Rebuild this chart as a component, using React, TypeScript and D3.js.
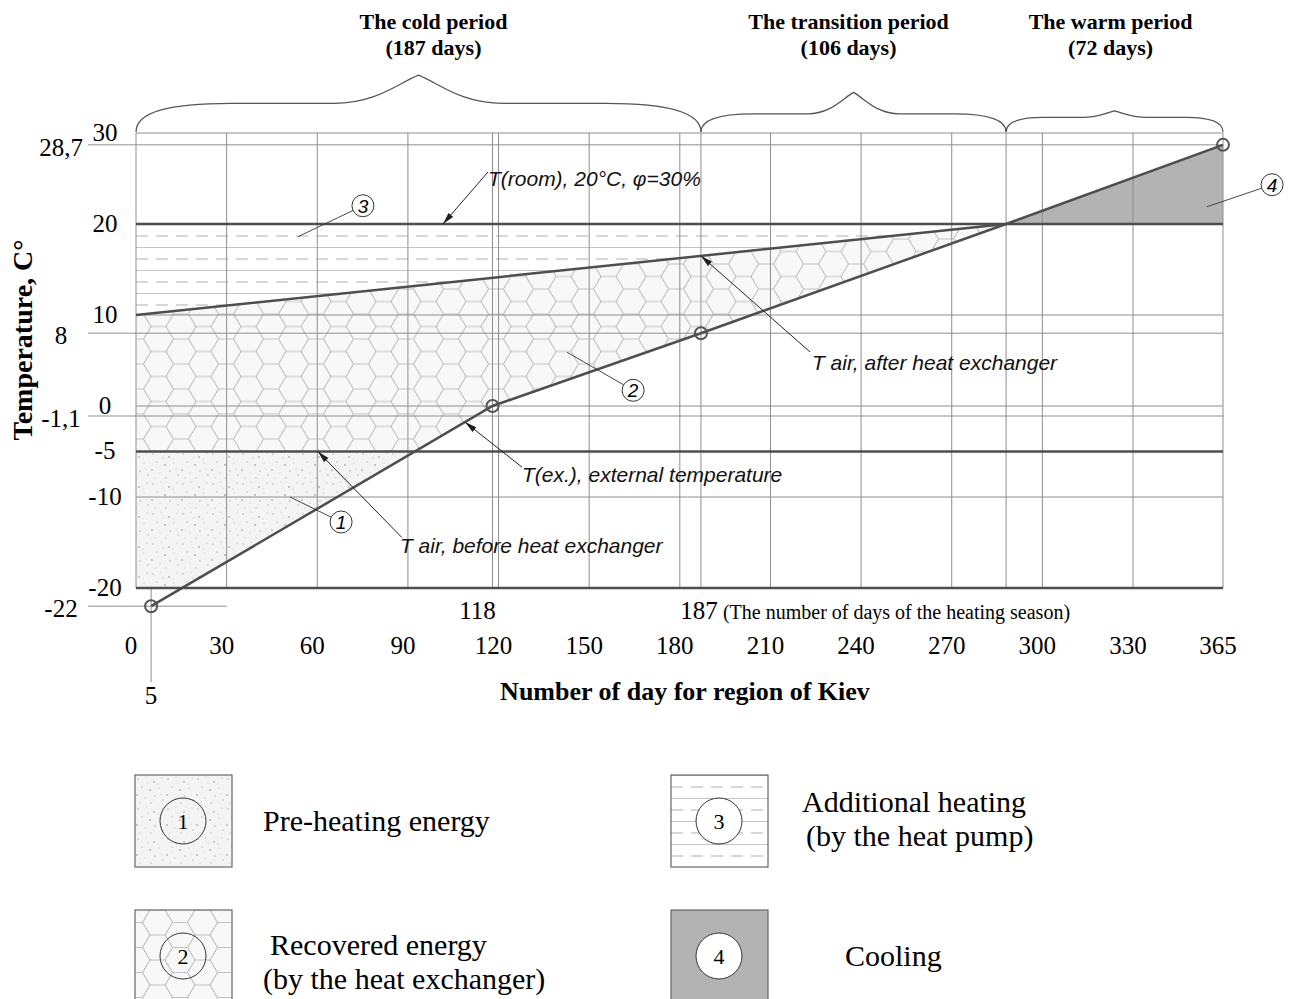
import React from "react";
import * as d3 from "d3";

// ---------- data ----------
const dayTicks = [0, 30, 60, 90, 120, 150, 180, 210, 240, 270, 300, 330, 365];
const markedDays = [118, 187, 288];
const tempTicksMain = [30, 20, 10, 0, -5, -10, -20];
const tempTicksExtra = [28.7, 8, -1.1, -22];
const extDays = [5, 118, 187, 288, 365];
const extTemps = [-22, 0, 8, 20, 28.7];
const afterDays = [0, 288];
const afterTemps = [10, 20];
const roomTemp = 20;
const preheatTemp = -5;
const bottomTemp = -20;
const periodNames = ["The cold period", "The transition period", "The warm period"];
const periodLengths = [187, 106, 72];
const periodBounds = [0, 187, 288, 365];
const legendNumbers = [1, 2, 3, 4];
const legendLabels = [
  ["Pre-heating energy"],
  ["Recovered energy", "(by the heat exchanger)"],
  ["Additional heating", "(by the heat pump)"],
  ["Cooling"],
];
const curveLabels = [
  "T(room), 20°C, φ=30%",
  "T air, after heat exchanger",
  "T(ex.), external temperature",
  "T air, before heat exchanger",
];
const xTitle = "Number of day for region of Kiev";
const yTitle = "Temperature, C°";
const heatingSeasonNote = "(The number of days of the heating season)";

// ---------- style ----------
const SERIF = "'Liberation Serif', 'Times New Roman', serif";
const SANS = "'Liberation Sans', Arial, sans-serif";
const DARK = "#4e4e4e";
const GRID = "#8e8e8e";

const stippleDots: [number, number, number][] = [
  [3, 4, 0.8], [11, 2, 0.6], [19, 7, 0.9], [27, 3, 0.6], [7, 12, 0.7], [15, 15, 1],
  [24, 13, 0.6], [2, 20, 0.9], [10, 23, 0.6], [20, 21, 0.8], [28, 25, 0.7], [5, 28, 0.6],
  [16, 28, 0.7], [23, 9, 0.5], [13, 8, 0.5], [26, 19, 0.5], [8, 17, 0.4], [18, 25, 0.4],
];

function hexPath(cx: number, cy: number, r: number, h: number) {
  const p = d3.path();
  p.moveTo(cx - r, cy);
  p.lineTo(cx - r / 2, cy - h / 2);
  p.lineTo(cx + r / 2, cy - h / 2);
  p.lineTo(cx + r, cy);
  p.lineTo(cx + r / 2, cy + h / 2);
  p.lineTo(cx - r / 2, cy + h / 2);
  p.closePath();
  return p.toString();
}

function bracePath(x0: number, x1: number, yb: number, pkFactor: number) {
  const w = x1 - x0;
  const xm = (x0 + x1) / 2;
  const d = 6 + 0.04 * w;
  const pk = pkFactor * w;
  const a = Math.min(0.17 * w, 95);
  const b = 0.15 * w;
  const yf = yb - d;
  const yp = yf - pk;
  const p = d3.path();
  p.moveTo(x0, yb);
  p.bezierCurveTo(x0, yb - d * 0.7, x0 + a * 0.35, yf, x0 + a, yf);
  p.lineTo(xm - b, yf);
  p.bezierCurveTo(xm - b * 0.5, yf, xm - b * 0.25, yp + pk * 0.3, xm, yp);
  p.bezierCurveTo(xm + b * 0.25, yp + pk * 0.3, xm + b * 0.5, yf, xm + b, yf);
  p.lineTo(x1 - a, yf);
  p.bezierCurveTo(x1 - a * 0.35, yf, x1, yb - d * 0.7, x1, yb);
  return { d: p.toString(), xm, yp };
}

export default function App() {
  const x = d3.scaleLinear().domain([0, 330, 365]).range([136, 1133, 1223]);
  const y = d3.scaleLinear().domain([-20, 30]).range([588, 133]);
  const ext = d3.scaleLinear().domain(extDays).range(extTemps);
  const extInv = d3.scaleLinear().domain(extTemps).range(extDays);
  const after = d3.scaleLinear().domain(afterDays).range(afterTemps);

  const dPre = extInv(preheatTemp);
  const dBottom = extInv(bottomTemp);
  const dRoom = extInv(roomTemp);
  const extPts: [number, number][] = extDays.map((d, i) => [d, extTemps[i]]);
  const line = d3
    .line<[number, number]>()
    .x((d) => x(d[0]))
    .y((d) => y(d[1]));
  const x0 = x(0);
  const xEnd = x(365);

  const region1: [number, number][] = [
    [0, preheatTemp],
    [dPre, preheatTemp],
    ...extPts.filter((p) => p[0] > dBottom && p[0] < dPre).reverse(),
    [dBottom, bottomTemp],
    [0, bottomTemp],
  ];
  const region2: [number, number][] = [
    [0, after(0)],
    [dRoom, after(dRoom)],
    ...extPts.filter((p) => p[0] > dPre && p[0] < dRoom).reverse(),
    [dPre, preheatTemp],
    [0, preheatTemp],
  ];
  const region3: [number, number][] = [
    [0, roomTemp],
    [dRoom, roomTemp],
    [0, after(0)],
  ];
  const region4: [number, number][] = [
    [dRoom, roomTemp],
    ...extPts.filter((p) => p[0] > dRoom),
    [365, roomTemp],
  ];

  const hexR = 15;
  const hexH = 25;
  const hexCenters = [
    [0, 0], [3 * hexR, 0], [0, hexH], [3 * hexR, hexH], [1.5 * hexR, hexH / 2],
  ];

  const vDays = [...dayTicks, ...markedDays];
  const thinTemps = [30, 10, 0, -10];

  // arrow annotations: tip in data coords, tail/text offsets in px
  const arrows = [
    { day: 101.6, temp: roomTemp, tail: [45, -52], text: [45, -38] },
    { day: 187, temp: after(187), tail: [109, 96], text: [111, 114] },
    { day: 108.9, temp: ext(108.9), tail: [57, 45], text: [57, 60] },
    { day: 60.2, temp: preheatTemp, tail: [84, 86], text: [82, 101] },
  ];
  // numbered callouts: anchor in data coords, circle offset in px
  const callouts = [
    { n: 1, day: 51, temp: -10, off: [51, 25] },
    { n: 2, day: 142.7, temp: 5.9, off: [66, 38] },
    { n: 3, day: 53.6, temp: 18.6, off: [65, -31] },
    { n: 4, day: 358.8, temp: 21.9, off: [65, -22] },
  ];
  const calloutR = 11;

  const legendPos = [
    [135, 775], [135, 910], [671, 775], [671, 910],
  ];
  const legendFills = ["url(#stipL)", "url(#hexL)", "url(#linesL)", "#b3b3b3"];
  const titleShift = [15, -5, -4];
  const bracePeak = [0.05, 0.07, 0.03];

  return (
    <svg
      width={1296}
      height={999}
      style={{ position: "absolute", left: 0, top: 0, background: "#fff" }}
      xmlns="http://www.w3.org/2000/svg"
    >
      <defs>
        {["stip", "stipL"].map((id) => (
          <pattern
            key={id}
            id={id}
            patternUnits="userSpaceOnUse"
            width={30}
            height={30}
            x={id === "stip" ? 0 : 135}
            y={id === "stip" ? 0 : 775}
          >
            <rect width={30} height={30} fill="#f4f4f4" />
            {stippleDots.map((d, i) => (
              <circle key={i} cx={d[0]} cy={d[1]} r={d[2]} fill="#b4b4b4" />
            ))}
          </pattern>
        ))}
        {["hex", "hexL"].map((id) => (
          <pattern
            key={id}
            id={id}
            patternUnits="userSpaceOnUse"
            width={3 * hexR}
            height={hexH}
            x={id === "hex" ? x0 : 135}
            y={id === "hex" ? y(preheatTemp) : 910}
          >
            <rect width={3 * hexR} height={hexH} fill="#f8f8f8" />
            {hexCenters.map((c, i) => (
              <path key={i} d={hexPath(c[0], c[1], hexR, hexH)} fill="none" stroke="#c2c2c2" strokeWidth={1} />
            ))}
          </pattern>
        ))}
        {["lines", "linesL"].map((id) => (
          <pattern
            key={id}
            id={id}
            patternUnits="userSpaceOnUse"
            width={40}
            height={23}
            x={id === "lines" ? x0 : 671}
            y={id === "lines" ? y(roomTemp) : 775}
          >
            <rect width={40} height={23} fill="#fff" />
            <line x1={0} x2={40} y1={12} y2={12} stroke="#b0b0b0" strokeDasharray="12 8" strokeWidth={1} />
            <line x1={0} x2={40} y1={0.5} y2={0.5} stroke="#c4c4c4" strokeWidth={1} />
          </pattern>
        ))}
        <marker
          id="arrow"
          viewBox="0 0 12 6"
          refX={12}
          refY={3}
          markerWidth={13}
          markerHeight={6}
          orient="auto"
          markerUnits="userSpaceOnUse"
        >
          <path d="M0,0L12,3L0,6Z" fill="#1e1e1e" />
        </marker>
      </defs>

      {/* regions */}
      <path d={line(region1) + "Z"} fill="url(#stip)" />
      <path d={line(region2) + "Z"} fill="url(#hex)" />
      <path d={line(region3) + "Z"} fill="url(#lines)" />
      <path d={line(region4) + "Z"} fill="#b3b3b3" />

      {/* vertical grid */}
      {vDays.map((d) => (
        <line key={"v" + d} x1={x(d)} x2={x(d)} y1={y(30)} y2={y(-20)} stroke={GRID} strokeWidth={1} />
      ))}
      {/* horizontal grid */}
      {thinTemps.map((t) => (
        <line key={"h" + t} x1={x0} x2={xEnd} y1={y(t)} y2={y(t)} stroke={GRID} strokeWidth={1} />
      ))}
      {tempTicksExtra.map((t) => (
        <line
          key={"e" + t}
          x1={88}
          x2={t === -22 ? x(30) : xEnd}
          y1={y(t)}
          y2={y(t)}
          stroke={GRID}
          strokeWidth={1}
        />
      ))}
      {/* day 5 leader */}
      <line x1={x(extDays[0])} x2={x(extDays[0])} y1={y(bottomTemp)} y2={682} stroke={GRID} strokeWidth={1} />

      {/* thick lines */}
      {[roomTemp, preheatTemp, bottomTemp].map((t) => (
        <line key={"t" + t} x1={x0} x2={xEnd} y1={y(t)} y2={y(t)} stroke={DARK} strokeWidth={2.5} />
      ))}
      <path
        d={line(afterDays.map((d, i) => [d, afterTemps[i]] as [number, number])) || ""}
        fill="none"
        stroke={DARK}
        strokeWidth={2.5}
      />
      <path d={line(extPts) || ""} fill="none" stroke={DARK} strokeWidth={2.5} />
      {extPts
        .filter((p) => p[0] !== dRoom)
        .map((p) => (
          <circle key={"c" + p[0]} cx={x(p[0])} cy={y(p[1])} r={6} fill="none" stroke="#555" strokeWidth={2} />
        ))}

      {/* braces & period titles */}
      {periodNames.map((name, i) => {
        const b = bracePath(x(periodBounds[i]), x(periodBounds[i + 1]), y(30) - 1, bracePeak[i]);
        return (
          <g key={name}>
            <path d={b.d} fill="none" stroke="#555" strokeWidth={1.3} />
            <text
              x={b.xm + titleShift[i]}
              y={29}
              textAnchor="middle"
              fontFamily={SERIF}
              fontWeight="bold"
              fontSize={22}
            >
              {name}
            </text>
            <text
              x={b.xm + titleShift[i]}
              y={55}
              textAnchor="middle"
              fontFamily={SERIF}
              fontWeight="bold"
              fontSize={22}
            >
              ({periodLengths[i]} days)
            </text>
          </g>
        );
      })}

      {/* y tick labels */}
      {tempTicksMain.map((t) => (
        <text key={"yl" + t} x={105} y={y(t) - 1} dy="0.35em" textAnchor="middle" fontFamily={SERIF} fontSize={25}>
          {String(t)}
        </text>
      ))}
      {tempTicksExtra.map((t) => (
        <text key={"yx" + t} x={61} y={y(t) + 2} dy="0.35em" textAnchor="middle" fontFamily={SERIF} fontSize={25}>
          {String(t).replace(".", ",")}
        </text>
      ))}

      {/* x tick labels */}
      {dayTicks.map((d) => (
        <text key={"xl" + d} x={x(d) - 5} y={654} textAnchor="middle" fontFamily={SERIF} fontSize={25}>
          {d}
        </text>
      ))}
      <text x={x(markedDays[0]) - 15} y={619} textAnchor="middle" fontFamily={SERIF} fontSize={25}>
        {markedDays[0]}
      </text>
      <text x={x(markedDays[1]) - 2} y={619} textAnchor="middle" fontFamily={SERIF} fontSize={25}>
        {markedDays[1]}
      </text>
      <text x={x(markedDays[1]) + 22} y={619} fontFamily={SERIF} fontSize={20}>
        {heatingSeasonNote}
      </text>
      <text x={x(extDays[0])} y={704} textAnchor="middle" fontFamily={SERIF} fontSize={25}>
        {extDays[0]}
      </text>

      {/* axis titles */}
      <text x={685} y={700} textAnchor="middle" fontFamily={SERIF} fontWeight="bold" fontSize={26}>
        {xTitle}
      </text>
      <text
        transform="translate(32,340) rotate(-90)"
        textAnchor="middle"
        fontFamily={SERIF}
        fontWeight="bold"
        fontSize={28}
      >
        {yTitle}
      </text>

      {/* arrow annotations */}
      {arrows.map((a, i) => {
        const tx = x(a.day);
        const ty = y(a.temp);
        return (
          <g key={"a" + i}>
            <line
              x1={tx + a.tail[0]}
              y1={ty + a.tail[1]}
              x2={tx}
              y2={ty}
              stroke="#222"
              strokeWidth={1}
              markerEnd="url(#arrow)"
            />
            <text
              x={tx + a.text[0]}
              y={ty + a.text[1]}
              fontFamily={SANS}
              fontStyle="italic"
              fontSize={21}
              fill="#111"
            >
              {curveLabels[i]}
            </text>
          </g>
        );
      })}

      {/* numbered callouts */}
      {callouts.map((c) => {
        const ax = x(c.day);
        const ay = y(c.temp);
        const cx = ax + c.off[0];
        const cy = ay + c.off[1];
        const len = Math.hypot(c.off[0], c.off[1]);
        const ex = cx - (c.off[0] / len) * calloutR;
        const ey = cy - (c.off[1] / len) * calloutR;
        return (
          <g key={"n" + c.n}>
            <line x1={ax} y1={ay} x2={ex} y2={ey} stroke="#333" strokeWidth={0.9} />
            <circle cx={cx} cy={cy} r={calloutR} fill="none" stroke="#333" strokeWidth={1} />
            <text
              x={cx}
              y={cy}
              dy="0.36em"
              textAnchor="middle"
              fontFamily={SANS}
              fontStyle="italic"
              fontSize={19}
            >
              {c.n}
            </text>
          </g>
        );
      })}

      {/* legend */}
      {legendNumbers.map((n, i) => {
        const [lx, ly] = legendPos[i];
        const textX = i < 2 ? 263 : i === 2 ? 802 : 845;
        const lines = legendLabels[i];
        const cy = ly + 46;
        return (
          <g key={"lg" + n}>
            <rect x={lx} y={ly} width={97} height={92} fill={legendFills[i]} stroke="#666" strokeWidth={1.2} />
            <circle
              cx={lx + 48}
              cy={cy}
              r={23}
              fill={i >= 2 ? "#fff" : "none"}
              stroke="#333"
              strokeWidth={1}
            />
            <text x={lx + 48} y={cy} dy="0.35em" textAnchor="middle" fontFamily={SERIF} fontSize={22}>
              {n}
            </text>
            {lines.map((s, j) => (
              <text
                key={j}
                x={textX + (lines.length > 1 && j === 0 && i === 1 ? 7 : 0) + (i === 2 && j === 1 ? 4 : 0)}
                y={lines.length === 1 ? cy + 10 : cy - 7 + j * 34 + (i === 1 ? -4 : -12) + 10}
                fontFamily={SERIF}
                fontSize={30}
              >
                {s}
              </text>
            ))}
          </g>
        );
      })}
    </svg>
  );
}
